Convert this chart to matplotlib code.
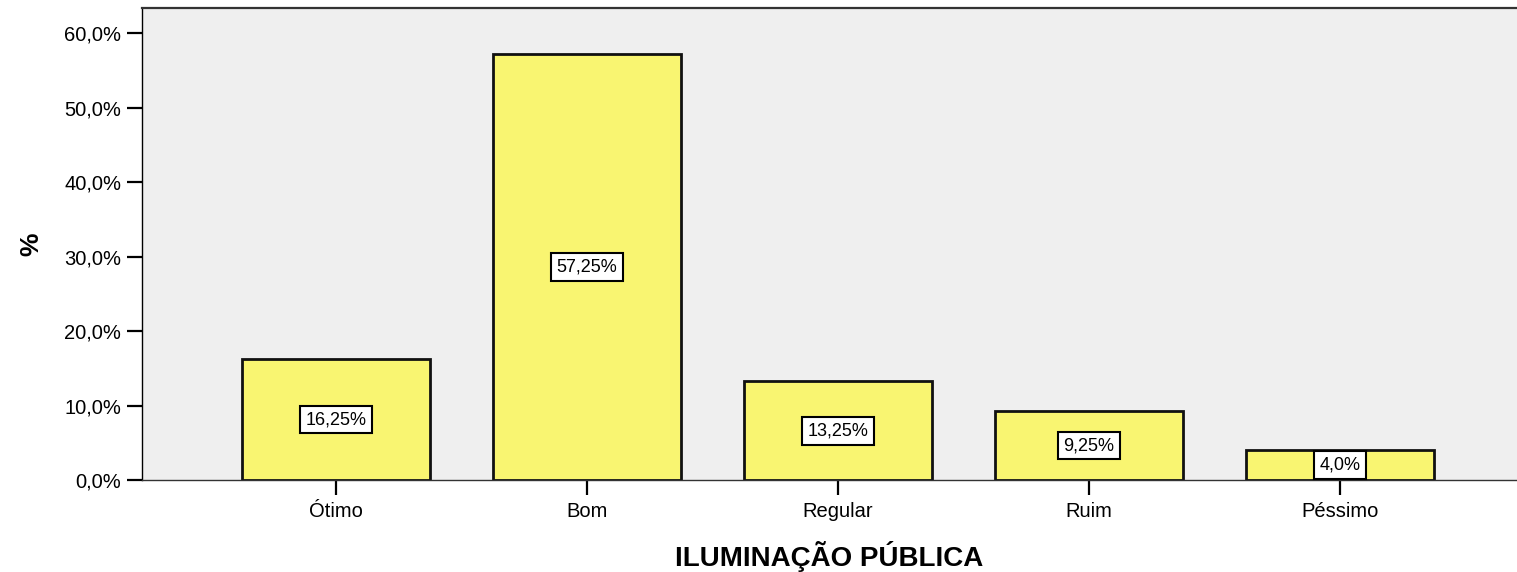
import matplotlib
matplotlib.use("Agg")
from matplotlib import pyplot as plt
import numpy as np

plt.rcParams['font.family'] = ['Liberation Sans', 'DejaVu Sans']

categories = ['Ótimo', 'Bom', 'Regular', 'Ruim', 'Péssimo']
values = [16.25, 57.25, 13.25, 9.25, 4.0]
labels = ['16,25%', '57,25%', '13,25%', '9,25%', '4,0%']
yticks = [0, 10, 20, 30, 40, 50, 60]
ytick_labels = ['0,0%', '10,0%', '20,0%', '30,0%', '40,0%', '50,0%', '60,0%']

fig = plt.figure(figsize=(15.17, 5.72), dpi=100)
ax = fig.add_axes([142/1517, 1-480/572, 1-142/1517, (480-8)/572])
ax.set_facecolor('#efefef')

x = np.arange(len(categories))
ax.bar(x, values, width=0.75, color='#f9f571', edgecolor='#111111', linewidth=2, zorder=2)
for xi, v, lab in zip(x, values, labels):
    ax.text(xi, v/2, lab, ha='center', va='center', fontsize=13, zorder=3,
            bbox=dict(boxstyle='square,pad=0.3', facecolor='white', edgecolor='black', linewidth=1.5))

ax.set_xlim(-0.773, 4.705)
ax.set_ylim(0, 63.4)
ax.set_xticks(x)
ax.set_xticklabels(categories, fontsize=14.5)
ax.set_yticks(yticks)
ax.set_yticklabels(ytick_labels, fontsize=14.5)
ax.tick_params(axis='both', length=11, width=1.6, color='black', direction='out', pad=4)
ax.tick_params(axis='x', pad=5)
ax.spines['right'].set_visible(False)
ax.spines['top'].set_color('#333333')
ax.spines['top'].set_linewidth(1.6)
ax.spines['left'].set_color('black')
ax.spines['left'].set_linewidth(1.0)
ax.spines['bottom'].set_color('#333333')
ax.spines['bottom'].set_linewidth(1.0)

ax.set_xlabel('ILUMINAÇÃO PÚBLICA', fontsize=20, fontweight='bold', labelpad=14)
ax.set_ylabel('%', fontsize=19, fontweight='bold', labelpad=15)

fig.savefig('out.png', dpi=100)
